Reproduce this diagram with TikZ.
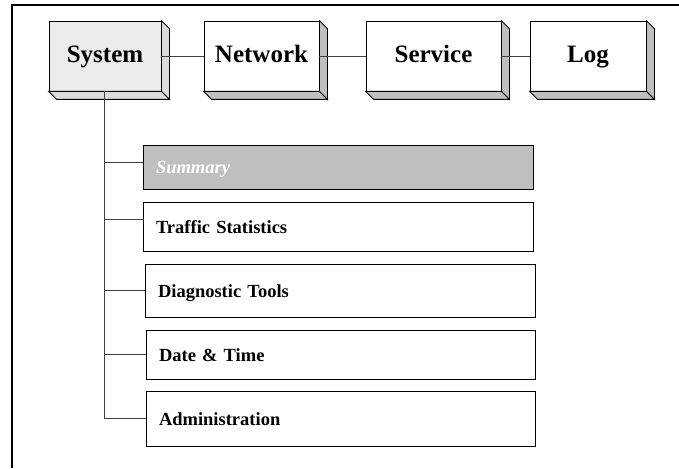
\documentclass[tikz,border=0pt]{standalone}
\usepackage{fontspec}
\setmainfont{Liberation Serif}
\begin{document}
\begin{tikzpicture}[x=1pt,y=-1pt,
  topbox/.style={draw=black,line width=0.8pt,fill=white,minimum height=70pt,inner sep=0pt,
    text height=17pt,text depth=3pt,
    font=\fontsize{25}{28}\selectfont\bfseries},
  sysbox/.style={topbox,fill=black!8},
  side/.style={draw=black,line width=0.8pt,fill=black!25},
  sysside/.style={side,fill=black!14},
  menubox/.style={draw=black,line width=0.8pt,fill=white,inner xsep=13pt,inner ysep=0pt,
    text height=13pt,text depth=0pt,
    align=left,font=\fontsize{18.5}{21}\selectfont\bfseries},
  conn/.style={draw=black!75,line width=0.9pt},
  frameline/.style={draw=black,line width=2pt}]
\useasboundingbox (0,0) rectangle (679,468);
% frame
\coordinate (f1) at (12,468);
\coordinate (f2) at (12,5);
\coordinate (f3) at (679,5);
\draw[frameline] (f1) -- (f2) -- (f3);
% top menu
\node[sysbox,minimum width=112pt] (sys) at (105,56) {System};
\node[topbox,minimum width=115pt] (net) at (261.5,56) {Network};
\node[topbox,minimum width=135pt] (srv) at (433.5,56) {Service};
\node[topbox,minimum width=116pt] (log) at (588,56) {Log};
% extrusions
\foreach \n/\s in {sys/sysside,net/side,srv/side,log/side}{
  \draw[\s] (\n.north east) -- ++(8,8) -- ([shift={(8pt,-8pt)}]\n.south east) -- (\n.south east) -- cycle;
  \draw[\s] (\n.south west) -- ++(8,8) -- ([shift={(8pt,-8pt)}]\n.south east) -- (\n.south east) -- cycle;
}
\draw[conn] (sys.east) -- (net.west);
\draw[conn] (net.east) -- (srv.west);
\draw[conn] (srv.east) -- (log.west);
% sub menu
\node[menubox,fill=black!25,text=white,font=\fontsize{18.5}{21}\selectfont\bfseries\itshape,
  minimum height=44pt,text width=364pt] (sum) at (338,167) {Summary};
\node[menubox,minimum height=49pt,text width=364pt] (tra) at (338,226.5) {Traffic Statistics};
\node[menubox,minimum height=53pt,text width=364pt] (dia) at (340,290.5) {Diagnostic Tools};
\node[menubox,minimum height=49pt,text width=363pt] (dat) at (340.5,354.5) {Date \& Time};
\node[menubox,minimum height=55pt,text width=363pt] (adm) at (340.5,418.5) {Administration};
\draw[conn] ([xshift=-0.5pt]sys.south) -- ([xshift=-0.5pt]sys.south |- adm.west) -- (adm.west);
\draw[conn] ([xshift=-0.5pt,yshift=5pt]sys.south |- sum.west) -- ([yshift=5pt]sum.west);
\draw[conn] ([xshift=-0.5pt,yshift=7.5pt]sys.south |- tra.west) -- ([yshift=7.5pt]tra.west);
\draw[conn] ([xshift=-0.5pt]sys.south |- dia.west) -- (dia.west);
\draw[conn] ([xshift=-0.5pt]sys.south |- dat.west) -- (dat.west);
\end{tikzpicture}
\end{document}
